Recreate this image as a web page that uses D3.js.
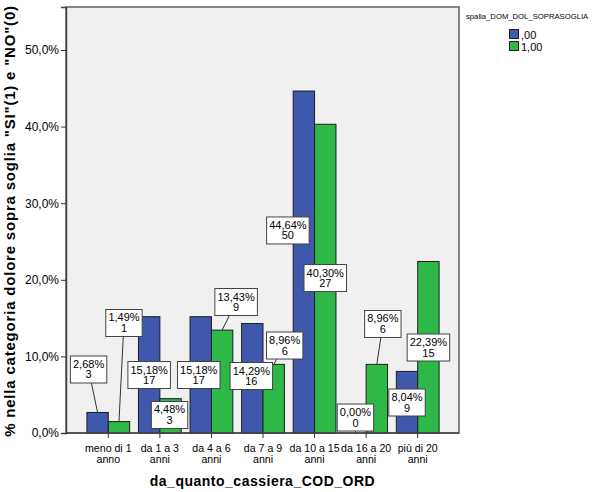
<!DOCTYPE html>
<html><head><meta charset="utf-8">
<script src="https://cdn.jsdelivr.net/npm/d3@7"></script>
<style>body{margin:0;background:#fff}svg{display:block;font-family:"Liberation Sans",Arial,sans-serif}</style>
</head><body><svg id="c" width="595" height="492"></svg>
<script>
const categories = ["meno di 1 anno","da 1 a 3 anni","da 4 a 6 anni","da 7 a 9 anni","da 10 a 15 anni","da 16 a 20 anni","più di 20 anni"];
const seriesNames = [",00","1,00"];
const pct00 = [2.68,15.18,15.18,14.29,44.64,0.00,8.04];
const cnt00 = [3,17,17,16,50,0,9];
const pct10 = [1.49,4.48,13.43,8.96,40.30,8.96,22.39];
const cnt10 = [1,3,9,6,27,6,15];
const yTicks = [0,10,20,30,40,50];
const legendTitle = "spalla_DOM_DOL_SOPRASOGLIA";
const xTitle = "da_quanto_cassiera_COD_ORD";
const yTitle = "% nella categoria dolore sopra soglia \"SI\"(1) e \"NO\"(0)";

// label placement (layout): [dx px from bar centre, y in value units]
const labelLayout00 = [[-9,8.29],[0,7.57],[-2,7.57],[-1,7.44],[-16,26.44],[0,2.02],[0,3.98]];
const labelLayout10 = [[5,14.36],[-1,2.35],[14,17.1],[11,11.42],[0,20.23],[6,14.23],[0,11.16]];

const colors = ["#3E58AC","#2EB848"];
const svg = d3.select("#c");
const P = {l:66, r:459, t:7, b:433};

const y = d3.scaleLinear().domain([0,55.61]).range([P.b,P.t]);
const x = d3.scaleBand().domain(categories).range([82.5,443.5]).padding(0);
const xs = d3.scaleBand().domain([0,1]).range([4.4, x.bandwidth()-4.4]).padding(0);

svg.append("rect").attr("x",P.l).attr("y",P.t).attr("width",P.r-P.l).attr("height",P.b-P.t)
  .attr("fill","#F0F0F0").attr("stroke","#5f5f5f").attr("stroke-width",1.5);

const fmt = v => v.toFixed(1).replace(".",",")+"%";

// y axis
const ya = svg.append("g").attr("transform",`translate(${P.l},0)`)
  .call(d3.axisLeft(y).tickValues(yTicks).tickFormat(fmt).tickSize(5).tickPadding(2));
ya.select(".domain").attr("stroke","#444").attr("stroke-width",1.5);
ya.selectAll(".tick line").attr("stroke","#333");
ya.selectAll(".tick text").attr("font-size",12).attr("fill","#000").attr("font-family","Liberation Sans, Arial");

// bars
const series = [
  {name:seriesNames[0], pct:pct00, cnt:cnt00, lay:labelLayout00},
  {name:seriesNames[1], pct:pct10, cnt:cnt10, lay:labelLayout10}
];
const g = svg.append("g");
series.forEach((s,si)=>{
  g.selectAll(null).data(categories).enter().append("rect")
    .attr("x",c=>x(c)+xs(si)).attr("width",xs.bandwidth())
    .attr("y",(c,i)=>y(s.pct[i])).attr("height",(c,i)=>y(0)-y(s.pct[i]))
    .attr("fill",colors[si]).attr("stroke","#1e1e1e").attr("stroke-width",1);
});

// x axis
const xa = svg.append("g").attr("transform",`translate(0,${P.b})`)
  .call(d3.axisBottom(x).tickSize(5).tickFormat(""));
xa.select(".domain").attr("stroke","#444").attr("stroke-width",1.5).attr("d",`M${P.l},0H${P.r}`);
xa.selectAll(".tick line").attr("stroke","#333");
xa.selectAll(".tick").each(function(c){
  const k = c.lastIndexOf(" ");
  const t = d3.select(this).append("text").attr("text-anchor","middle").attr("font-size",10.6).attr("fill","#000");
  t.append("tspan").attr("x",0).attr("y",18.5).text(c.slice(0,k));
  t.append("tspan").attr("x",0).attr("y",29.5).text(c.slice(k+1));
});

// value labels
const lg = svg.append("g");
series.forEach((s,si)=>{
  categories.forEach((c,i)=>{
    const bx = x(c)+xs(si)+xs.bandwidth()/2;
    const by = y(s.pct[i]);
    const cx = bx + s.lay[i][0];
    const cy = y(s.lay[i][1]);
    const l1 = s.pct[i].toFixed(2).replace(".",",")+"%";
    const l2 = String(s.cnt[i]);
    const grp = lg.append("g");
    const t = grp.append("text").attr("text-anchor","middle").attr("font-size",11).attr("fill","#000");
    t.append("tspan").attr("x",cx).attr("y",cy-1.5).text(l1);
    t.append("tspan").attr("x",cx).attr("y",cy+9).text(l2);
    const w = t.node().getBBox().width+5;
    const h = 27;
    const top = cy-h/2, bot = cy+h/2;
    if (bot < by-1) {
      grp.insert("line","text").attr("x1",cx).attr("y1",cy).attr("x2",bx).attr("y2",by)
        .attr("stroke","#333").attr("stroke-width",1);
    }
    grp.insert("rect","text").attr("x",cx-w/2).attr("y",top).attr("width",w).attr("height",h)
      .attr("fill","#fff").attr("stroke","#444").attr("stroke-width",1);
  });
});

// titles
svg.append("text").attr("x",(P.l+P.r)/2).attr("y",486).attr("text-anchor","middle")
  .attr("font-size",14).attr("font-weight","bold").attr("letter-spacing",0.5).text(xTitle);
svg.append("text").attr("transform",`translate(15,${(P.t+P.b)/2+1}) rotate(-90)`).attr("text-anchor","middle")
  .attr("font-size",15).attr("font-weight","bold").attr("letter-spacing",0.8).text(yTitle);

// legend
svg.append("text").attr("x",466).attr("y",19).attr("font-size",7.7).attr("fill","#000").text(legendTitle);
seriesNames.forEach((n,i)=>{
  svg.append("rect").attr("x",509.5).attr("y",29.5+i*12).attr("width",9).attr("height",9)
    .attr("fill",colors[i]).attr("stroke","#1e1e1e").attr("stroke-width",1);
  svg.append("text").attr("x",521).attr("y",38.5+i*12).attr("font-size",11).attr("fill","#000").text(n);
});
</script></body></html>
